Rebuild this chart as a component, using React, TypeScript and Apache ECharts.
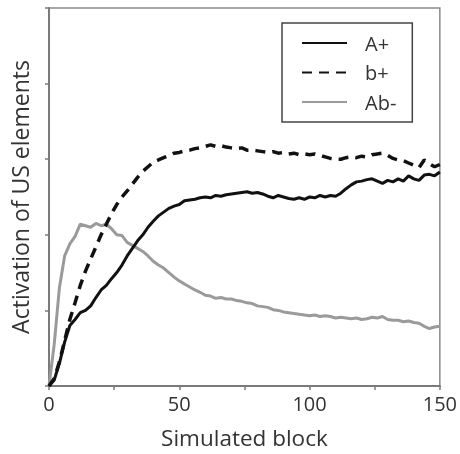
import React, { useEffect, useRef } from "react";
import * as echarts from "echarts";

const blocks = [
  0, 2, 4, 6, 8, 10, 12, 14, 16, 18, 20, 22, 24, 26, 28, 30, 32, 34, 36, 38,
  40, 42, 44, 46, 48, 50, 52, 54, 56, 58, 60, 62, 64, 66, 68, 70, 72, 74, 76, 78,
  80, 82, 84, 86, 88, 90, 92, 94, 96, 98, 100, 102, 104, 106, 108, 110, 112, 114, 116, 118,
  120, 122, 124, 126, 128, 130, 132, 134, 136, 138, 140, 142, 144, 146, 148, 150,
];

const aPlus = [
  0, 0.08, 0.3, 0.58, 0.8, 0.88, 0.97, 1.0, 1.06, 1.17, 1.27, 1.33, 1.42, 1.5, 1.6, 1.72, 1.82, 1.92, 2.0, 2.1,
  2.18, 2.25, 2.3, 2.35, 2.38, 2.4, 2.45, 2.46, 2.47, 2.49, 2.5, 2.49, 2.52, 2.51, 2.53, 2.54, 2.55, 2.56, 2.57, 2.55,
  2.56, 2.54, 2.51, 2.49, 2.52, 2.5, 2.48, 2.47, 2.49, 2.47, 2.5, 2.49, 2.52, 2.5, 2.52, 2.51, 2.55, 2.61, 2.66, 2.7,
  2.71, 2.73, 2.74, 2.71, 2.68, 2.72, 2.7, 2.74, 2.71, 2.78, 2.74, 2.72, 2.79, 2.8, 2.78, 2.83,
];

const bPlus = [
  0, 0.1, 0.32, 0.6, 0.88, 1.1, 1.33, 1.52, 1.68, 1.84, 2.0, 2.14, 2.28, 2.4, 2.5, 2.58, 2.67, 2.76, 2.84, 2.9,
  2.96, 2.99, 3.02, 3.05, 3.08, 3.09, 3.11, 3.12, 3.14, 3.15, 3.17, 3.19, 3.17, 3.18, 3.16, 3.15, 3.14, 3.15, 3.12, 3.12,
  3.11, 3.1, 3.09, 3.1, 3.08, 3.09, 3.07, 3.08, 3.06, 3.07, 3.06, 3.07, 3.05, 3.03, 3.01, 3.0, 3.0, 3.02, 3.03, 3.02,
  3.04, 3.03, 3.06, 3.07, 3.08, 3.05, 3.01, 2.99, 2.98, 2.95, 2.92, 2.89, 2.99, 2.94, 2.9, 2.93,
];

const abMinus = [
  0, 0.55, 1.3, 1.72, 1.88, 1.98, 2.14, 2.12, 2.1, 2.15, 2.12, 2.14, 2.08, 2.0, 1.99, 1.9, 1.86, 1.82, 1.78, 1.72,
  1.65, 1.6, 1.56, 1.5, 1.44, 1.39, 1.35, 1.31, 1.27, 1.24, 1.2, 1.19, 1.16, 1.17, 1.15, 1.15, 1.13, 1.12, 1.1, 1.09,
  1.06, 1.05, 1.04, 1.01, 1.0, 0.98, 0.97, 0.96, 0.95, 0.94, 0.93, 0.94, 0.92, 0.93, 0.92, 0.9, 0.91, 0.9, 0.89, 0.9,
  0.88, 0.89, 0.91, 0.9, 0.92, 0.88, 0.87, 0.87, 0.85, 0.86, 0.84, 0.83, 0.79, 0.76, 0.78, 0.79,
];

const xTickLabels = [0, 50, 100, 150];
const seriesNames = ["A+", "b+", "Ab-"];

const FONT = "'Open Sans', sans-serif";
const TEXT = "#333333";

export default function App() {
  const ref = useRef<HTMLDivElement>(null);
  useEffect(() => {
    if (!ref.current) return;
    const chart = echarts.init(ref.current, undefined, { renderer: "svg" });
    const pairs = (ys: number[]) => blocks.map((b, i) => [b, ys[i]]);
    chart.setOption({
      animation: false,
      grid: {
        left: 49,
        right: 19,
        top: 8,
        bottom: 66,
        show: true,
        borderColor: "#8a8a8a",
        borderWidth: 1.5,
        backgroundColor: "transparent",
      },
      legend: {
        data: seriesNames,
        orient: "vertical",
        left: 282,
        top: 23,
        itemWidth: 45,
        itemHeight: 20,
        itemGap: 9.5,
        padding: [10, 16, 10, 19],
        borderColor: "#444444",
        borderWidth: 1.5,
        borderRadius: 0,
        itemStyle: { opacity: 0, borderWidth: 0 },
        textStyle: {
          fontFamily: FONT,
          fontSize: 20,
          color: TEXT,
          padding: [0, 0, 0, 13],
        },
      },
      xAxis: {
        type: "value",
        min: 0,
        max: 150,
        interval: 25,
        name: "Simulated block",
        nameLocation: "middle",
        nameGap: 40,
        nameTextStyle: { fontFamily: FONT, fontSize: 22.5, color: TEXT },
        axisLine: { lineStyle: { color: "#7a7a7a", width: 2 } },
        axisTick: { show: true, length: 4, lineStyle: { color: "#7a7a7a", width: 1.5 } },
        splitLine: { show: false },
        axisLabel: {
          margin: 7,
          fontFamily: FONT,
          fontSize: 20,
          color: TEXT,
          formatter: (v: number) => (xTickLabels.includes(v) ? String(v) : ""),
        },
      },
      yAxis: {
        type: "value",
        min: 0,
        max: 5,
        interval: 1,
        name: "Activation of US elements",
        nameLocation: "middle",
        nameGap: 18,
        nameTextStyle: { fontFamily: FONT, fontSize: 23, color: TEXT },
        axisLine: { show: true, lineStyle: { color: "#7a7a7a", width: 2 } },
        axisTick: { show: true, length: 4, lineStyle: { color: "#7a7a7a", width: 1.5 } },
        splitLine: { show: false },
        axisLabel: { show: false },
      },
      series: [
        {
          name: "Ab-",
          type: "line",
          data: pairs(abMinus),
          showSymbol: false,
          symbol: "none",
          symbolSize: 0,
          lineStyle: { color: "#9a9a9a", width: 3 },
          itemStyle: { color: "#9a9a9a" },
        },
        {
          name: "b+",
          type: "line",
          data: pairs(bPlus),
          showSymbol: false,
          symbol: "none",
          symbolSize: 0,
          lineStyle: { color: "#111111", width: 3.5, type: [10, 7] },
          itemStyle: { color: "#111111" },
        },
        {
          name: "A+",
          type: "line",
          data: pairs(aPlus),
          showSymbol: false,
          symbol: "none",
          symbolSize: 0,
          lineStyle: { color: "#111111", width: 3 },
          itemStyle: { color: "#111111" },
        },
      ],
    });
    return () => chart.dispose();
  }, []);
  return <div ref={ref} style={{ width: 460, height: 454, position: "fixed", left: 0, top: 0 }} />;
}
